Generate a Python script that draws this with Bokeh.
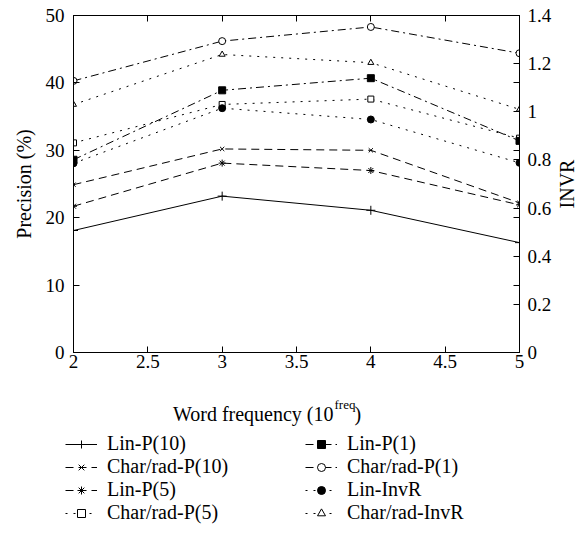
import math
from bokeh.plotting import figure
from bokeh.layouts import column, row
from bokeh.models import (Range1d, LinearAxis, FixedTicker, NumeralTickFormatter,
                          Legend, LegendItem, Label)
from bokeh.embed import file_html
from bokeh.resources import INLINE

# ---------------- data ----------------
freq = [2, 3, 4, 5]
x_ticks = [2, 2.5, 3, 3.5, 4, 4.5, 5]
y_ticks = [0, 10, 20, 30, 40, 50]
y2_ticks = [0, 0.2, 0.4, 0.6, 0.8, 1.0, 1.2, 1.4]

lin_p10 = [18.1, 23.2, 21.1, 16.3]
char_p10 = [24.9, 30.2, 30.0, 22.2]
lin_p5 = [21.7, 28.1, 27.0, 21.9]
char_p5 = [31.1, 36.8, 37.6, 31.8]
lin_p1 = [28.6, 38.9, 40.7, 31.4]
char_p1 = [40.3, 46.2, 48.3, 44.4]
lin_invr = [0.786, 1.015, 0.968, 0.788]
char_invr = [1.03, 1.238, 1.204, 1.01]

FONT = "Liberation Serif"
TICK_FS = "19px"
FS = "20px"


def no_align(fig):
    if hasattr(fig, "frame_align"):
        fig.frame_align = False


p = figure(frame_width=446, frame_height=337,
           x_range=Range1d(2, 5), y_range=Range1d(0, 50),
           output_backend="svg", toolbar_location=None,
           min_border_left=73, min_border_top=15, min_border_right=32,
           min_border_bottom=28)
no_align(p)
p.extra_y_ranges = {"invr": Range1d(0, 1.4)}
p.grid.visible = False
p.outline_line_color = "black"
p.outline_line_width = 1


def style_axis(ax):
    ax.axis_line_color = "black"
    ax.major_tick_line_color = "black"
    ax.major_tick_in = 6
    ax.major_tick_out = 0
    ax.minor_tick_line_color = None
    ax.major_label_text_font = FONT
    ax.major_label_text_font_size = TICK_FS
    ax.major_label_text_color = "black"
    ax.axis_label_text_font = FONT
    ax.axis_label_text_font_size = FS
    ax.axis_label_text_font_style = "normal"
    ax.axis_label_text_color = "black"


# bottom axis
xa = p.xaxis[0]
xa.ticker = FixedTicker(ticks=x_ticks)
xa.formatter = NumeralTickFormatter(format="0.[0]")
xa.major_label_standoff = 2
style_axis(xa)

# left axis
ya = p.yaxis[0]
ya.ticker = FixedTicker(ticks=y_ticks)
ya.axis_label = "Precision (%)"
ya.major_label_standoff = 9
ya.axis_label_standoff = 8
style_axis(ya)

# top axis (ticks only)
top = LinearAxis(ticker=FixedTicker(ticks=x_ticks))
top.major_label_overrides = {t: "" for t in x_ticks}
top.major_label_standoff = 0
style_axis(top)
top.major_label_text_font_size = "1px"
p.add_layout(top, "above")

# right axis (INVR), with mirrored precision ticks
mirror = [t / y_ticks[-1] * y2_ticks[-1] for t in y_ticks[1:-1]]
ra = LinearAxis(y_range_name="invr", ticker=FixedTicker(ticks=y2_ticks + mirror))
ra.formatter = NumeralTickFormatter(format="0.[0]")
ra.major_label_overrides = {m: "" for m in mirror}
ra.major_label_standoff = 8
style_axis(ra)
p.add_layout(ra, "right")

DASH = "8 5"
DOT = "2 6"
DASHDOT = "8 4 2 4"

series = [
    ("Lin-P(10)", lin_p10, "solid", "cross", 9, "black", "default"),
    ("Char/rad-P(10)", char_p10, DASH, "x", 6, "black", "default"),
    ("Lin-P(5)", lin_p5, DASH, "asterisk", 7, "black", "default"),
    ("Char/rad-P(5)", char_p5, DOT, "square", 6, "white", "default"),
    ("Lin-P(1)", lin_p1, DASHDOT, "square", 7, "black", "default"),
    ("Char/rad-P(1)", char_p1, DASHDOT, "circle", 7, "white", "default"),
    ("Lin-InvR", lin_invr, DOT, "circle", 7, "black", "invr"),
    ("Char/rad-InvR", char_invr, DOT, "triangle", 6, "white", "invr"),
]

for label, vals, dash, marker, size, fill, rng in series:
    p.line(freq, vals, line_color="black", line_width=1, line_dash=dash,
           y_range_name=rng)
    p.scatter(freq, vals, marker=marker, size=size, line_color="black",
              fill_color=fill, line_width=1, y_range_name=rng)


def blank(width, height):
    f = figure(width=width, height=height, x_range=Range1d(0, 1), y_range=Range1d(0, 1),
               output_backend="svg", toolbar_location=None,
               x_axis_location=None, y_axis_location=None, min_border=0)
    no_align(f)
    f.grid.visible = False
    f.outline_line_color = None
    return f


# ---------------- right strip: INVR axis title ----------------
P_H = 15 + 337 + 28
p3 = blank(26, P_H)
p3.add_layout(Label(x=12.5, y=P_H - 183.5, x_units="screen", y_units="screen",
                    text="INVR", angle=math.pi / 2, text_align="center",
                    text_baseline="middle", text_font=FONT, text_font_size=FS,
                    text_color="black"))

# ---------------- lower panel: x title + legend ----------------
B_H = 155
p2 = blank(577, B_H)

items = []
for label, vals, dash, marker, size, fill, rng in series:
    lr = p2.line(freq, vals, line_color="black", line_width=1, line_dash=dash)
    sr = p2.scatter(freq, vals, marker=marker, size=size, line_color="black",
                    fill_color=fill, line_width=1)
    items.append(LegendItem(label=label, renderers=[lr, sr]))

legend = Legend(items=items, ncols=2, location=(65, 11), orientation="vertical",
                glyph_width=32, glyph_height=20, label_height=20, label_standoff=10,
                label_width=198, spacing=0, padding=0, margin=0,
                border_line_alpha=0, background_fill_alpha=0,
                label_text_font=FONT, label_text_font_size=FS,
                label_text_color="black")
p2.add_layout(legend)

# x-axis title with superscript
p2.add_layout(Label(x=333, y=122, x_units="screen", y_units="screen",
                    text="Word frequency (10", text_align="right",
                    text_baseline="alphabetic", text_font=FONT, text_font_size=FS,
                    text_color="black"))
p2.add_layout(Label(x=334, y=131, x_units="screen", y_units="screen",
                    text="freq", text_align="left",
                    text_baseline="alphabetic", text_font=FONT, text_font_size="13px",
                    text_color="black"))
p2.add_layout(Label(x=354, y=122, x_units="screen", y_units="screen",
                    text=")", text_align="left",
                    text_baseline="alphabetic", text_font=FONT, text_font_size=FS,
                    text_color="black"))

layout = column(row(p, p3), p2)
open("out.html", "w").write(file_html(layout, INLINE))
